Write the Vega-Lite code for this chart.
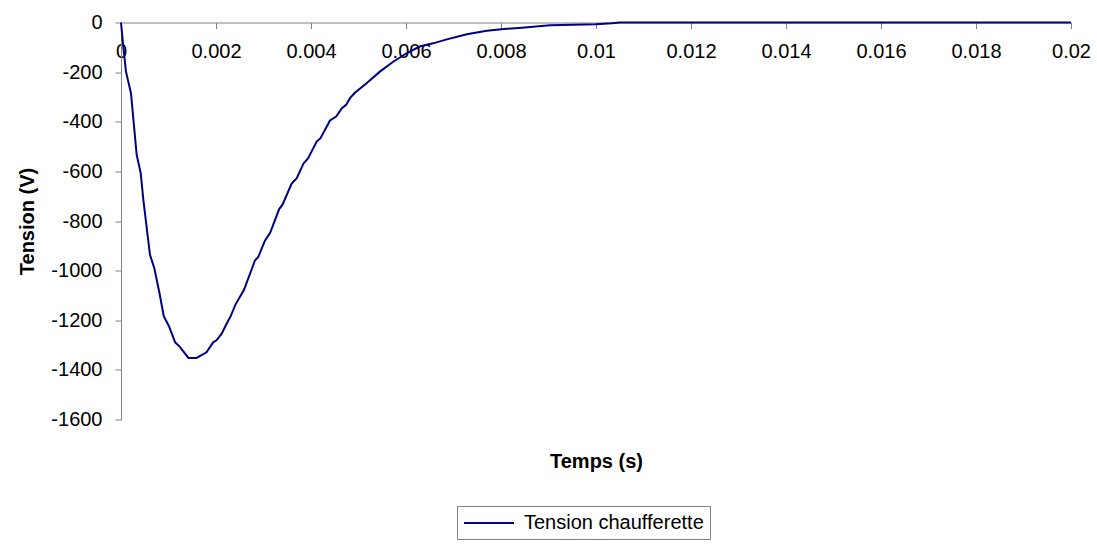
{
  "$schema": "https://vega.github.io/schema/vega-lite/v6.json",
  "autosize": "none",
  "width": 950,
  "height": 397,
  "padding": {"left": 121, "top": 22.5, "right": 26, "bottom": 124.5},
  "background": "white",
  "config": {
    "view": {"stroke": null},
    "font": "Liberation Sans",
    "axis": {"grid": false, "domainColor": "#808080", "tickColor": "#808080", "labelColor": "black", "titleColor": "black", "labelFont": "Liberation Sans", "titleFont": "Liberation Sans", "labelFontSize": 20, "titleFontSize": 20, "titleFontWeight": "bold", "tickSize": 6}
  },
  "data": {
    "values": [
      {"t": 0, "v": 0, "s": "Tension chaufferette"},
      {"t": 0.00005, "v": -100, "s": "Tension chaufferette"},
      {"t": 0.000105, "v": -198, "s": "Tension chaufferette"},
      {"t": 0.00021, "v": -285, "s": "Tension chaufferette"},
      {"t": 0.00033, "v": -533, "s": "Tension chaufferette"},
      {"t": 0.000415, "v": -607, "s": "Tension chaufferette"},
      {"t": 0.00047, "v": -714, "s": "Tension chaufferette"},
      {"t": 0.00061, "v": -936, "s": "Tension chaufferette"},
      {"t": 0.0007, "v": -989, "s": "Tension chaufferette"},
      {"t": 0.00081, "v": -1090, "s": "Tension chaufferette"},
      {"t": 0.0009, "v": -1184, "s": "Tension chaufferette"},
      {"t": 0.00101, "v": -1224, "s": "Tension chaufferette"},
      {"t": 0.00114, "v": -1289, "s": "Tension chaufferette"},
      {"t": 0.00123, "v": -1305, "s": "Tension chaufferette"},
      {"t": 0.00142, "v": -1352, "s": "Tension chaufferette"},
      {"t": 0.00159, "v": -1352, "s": "Tension chaufferette"},
      {"t": 0.0018, "v": -1329, "s": "Tension chaufferette"},
      {"t": 0.00194, "v": -1289, "s": "Tension chaufferette"},
      {"t": 0.00201, "v": -1281, "s": "Tension chaufferette"},
      {"t": 0.00212, "v": -1254, "s": "Tension chaufferette"},
      {"t": 0.00223, "v": -1211, "s": "Tension chaufferette"},
      {"t": 0.0023, "v": -1187, "s": "Tension chaufferette"},
      {"t": 0.00241, "v": -1137, "s": "Tension chaufferette"},
      {"t": 0.00259, "v": -1077, "s": "Tension chaufferette"},
      {"t": 0.00282, "v": -959, "s": "Tension chaufferette"},
      {"t": 0.00289, "v": -945, "s": "Tension chaufferette"},
      {"t": 0.00303, "v": -879, "s": "Tension chaufferette"},
      {"t": 0.00314, "v": -848, "s": "Tension chaufferette"},
      {"t": 0.00333, "v": -752, "s": "Tension chaufferette"},
      {"t": 0.0034, "v": -734, "s": "Tension chaufferette"},
      {"t": 0.00359, "v": -650, "s": "Tension chaufferette"},
      {"t": 0.0037, "v": -627, "s": "Tension chaufferette"},
      {"t": 0.00384, "v": -569, "s": "Tension chaufferette"},
      {"t": 0.00394, "v": -547, "s": "Tension chaufferette"},
      {"t": 0.00412, "v": -480, "s": "Tension chaufferette"},
      {"t": 0.0042, "v": -466, "s": "Tension chaufferette"},
      {"t": 0.0044, "v": -395, "s": "Tension chaufferette"},
      {"t": 0.00453, "v": -379, "s": "Tension chaufferette"},
      {"t": 0.00465, "v": -345, "s": "Tension chaufferette"},
      {"t": 0.00474, "v": -332, "s": "Tension chaufferette"},
      {"t": 0.00482, "v": -305, "s": "Tension chaufferette"},
      {"t": 0.00493, "v": -282, "s": "Tension chaufferette"},
      {"t": 0.00517, "v": -245, "s": "Tension chaufferette"},
      {"t": 0.00545, "v": -198, "s": "Tension chaufferette"},
      {"t": 0.00573, "v": -158, "s": "Tension chaufferette"},
      {"t": 0.00601, "v": -124, "s": "Tension chaufferette"},
      {"t": 0.00629, "v": -97, "s": "Tension chaufferette"},
      {"t": 0.00657, "v": -84, "s": "Tension chaufferette"},
      {"t": 0.00686, "v": -68, "s": "Tension chaufferette"},
      {"t": 0.00728, "v": -47, "s": "Tension chaufferette"},
      {"t": 0.0077, "v": -33, "s": "Tension chaufferette"},
      {"t": 0.00801, "v": -27, "s": "Tension chaufferette"},
      {"t": 0.00844, "v": -21, "s": "Tension chaufferette"},
      {"t": 0.00903, "v": -11, "s": "Tension chaufferette"},
      {"t": 0.01, "v": -7, "s": "Tension chaufferette"},
      {"t": 0.01033, "v": -3, "s": "Tension chaufferette"},
      {"t": 0.0105, "v": 0, "s": "Tension chaufferette"},
      {"t": 0.02, "v": 0, "s": "Tension chaufferette"}
    ]
  },
  "mark": {"type": "line", "strokeWidth": 2, "clip": false},
  "encoding": {
    "x": {
      "field": "t", "type": "quantitative",
      "scale": {"domain": [0, 0.02], "nice": false, "zero": false},
      "axis": {"title": "Temps (s)", "orient": "bottom", "offset": -397, "values": [0, 0.002, 0.004, 0.006, 0.008, 0.01, 0.012, 0.014, 0.016, 0.018, 0.02], "labelExpr": "datum.value == 0 ? '0' : format(datum.value, '~g')", "labelPadding": 13, "labelFlush": false, "labelOverlap": false, "titleY": 439, "titleBaseline": "middle"}
    },
    "y": {
      "field": "v", "type": "quantitative",
      "scale": {"domain": [-1600, 0], "nice": false},
      "axis": {"title": "Tension (V)", "values": [-1600, -1400, -1200, -1000, -800, -600, -400, -200, 0], "labelExpr": "'' + datum.value", "labelPadding": 13, "labelFlush": false, "titleX": -94, "titleBaseline": "middle"}
    },
    "color": {
      "field": "s", "type": "nominal",
      "scale": {"range": ["#000080"]},
      "legend": {"title": null, "orient": "none", "legendX": 336, "legendY": 483.5, "strokeColor": "#808080", "padding": 6, "symbolType": "M-1,0H4", "symbolSize": 400, "symbolStrokeWidth": 2, "symbolFillColor": "transparent", "labelFontSize": 20, "labelFont": "Liberation Sans", "labelColor": "black", "labelOffset": 39, "labelLimit": 0}
    }
  }
}
